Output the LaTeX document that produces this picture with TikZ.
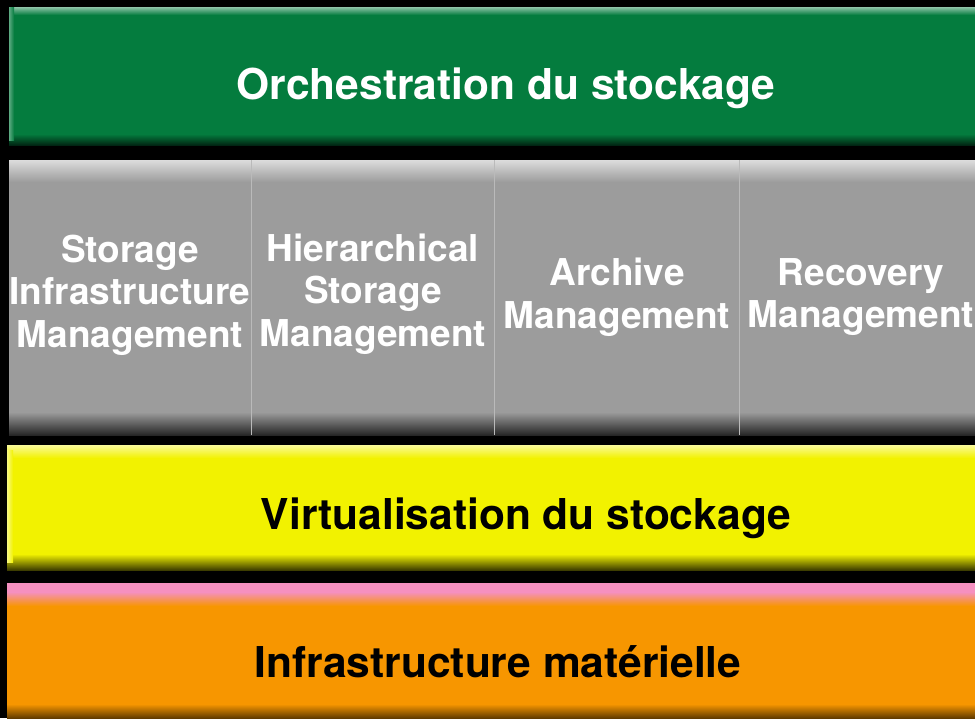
\documentclass[tikz,border=0pt]{standalone}
\usepackage{fontspec}
\setmainfont{TeX Gyre Heros}

\definecolor{orchgreen}{HTML}{047C3E}
\definecolor{layergrey}{HTML}{9C9C9C}
\definecolor{virtyellow}{HTML}{F2F200}
\definecolor{infraorange}{HTML}{F79600}
\definecolor{infrapink}{HTML}{F590C0}

\tikzset{
	bandtitle/.style={font=\fontsize{42.5}{50}\selectfont\bfseries, inner sep=0pt},
	coltitle/.style={font=\fontsize{37}{42.5}\selectfont\bfseries, align=center, inner sep=0pt, text=white},
}

\begin{document}
\begin{tikzpicture}[x=1pt,y=-1pt]

	\fill[black] (0,0) rectangle (975,718);
	\useasboundingbox (0,0) rectangle (975,718);

	% orchestration band
	\fill[orchgreen] (9,7) rectangle (975,145);
	\shade[top color=orchgreen!45!white, bottom color=orchgreen] (9,7) rectangle (975,15);
	\shade[top color=orchgreen, bottom color=orchgreen!30!black] (9,134) rectangle (975,145);
	\shade[left color=orchgreen!65!white, right color=orchgreen] (9,7) rectangle (14,140);

	% management band
	\fill[layergrey] (9,160) rectangle (975,435);
	\shade[top color=layergrey!35!white, bottom color=layergrey] (9,160) rectangle (975,182);
	\shade[top color=layergrey, bottom color=black!85] (9,412) rectangle (975,435);
	\draw[layergrey!70!white, line width=1pt]
		(251,160) -- (251,435)
		(494,160) -- (494,435)
		(739,160) -- (739,435)
	;

	% virtualisation band
	\fill[virtyellow] (7,445) rectangle (975,570);
	\shade[top color=virtyellow!40!white, bottom color=virtyellow] (7,445) rectangle (975,458);
	\shade[top color=virtyellow, bottom color=virtyellow!25!black] (7,554) rectangle (975,570);
	\shade[left color=virtyellow!50!white, right color=virtyellow] (7,450) rectangle (13,562);

	% hardware band
	\fill[infraorange] (7,583) rectangle (975,718);
	\fill[infrapink] (7,583) rectangle (975,592);
	\shade[top color=infrapink, bottom color=infraorange] (7,592) rectangle (975,606);
	\shade[top color=infraorange, bottom color=infraorange!40!black] (7,704) rectangle (975,718);

	\node (orch) at (506,88) [bandtitle, text=white] {Orchestration du stockage};
	\node (sim) at (130,295) [coltitle] {Storage\\Infrastructure\\Management};
	\node (hsm) at (373,294) [coltitle] {Hierarchical\\Storage\\Management};
	\node (arch) at (617,297) [coltitle] {Archive\\Management};
	\node (recov) at (861,297) [coltitle] {Recovery\\Management};
	\node (virt) at (526,518) [bandtitle] {Virtualisation du stockage};
	\node (infra) at (498,662) [bandtitle] {Infrastructure matérielle};
\end{tikzpicture}
\end{document}
